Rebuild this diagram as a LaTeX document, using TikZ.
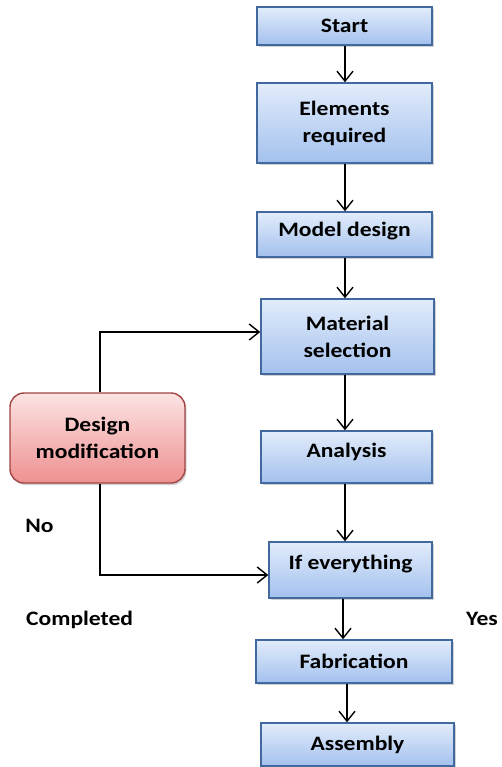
\documentclass[tikz,border=0pt]{standalone}
\usepackage{fontspec}
\setmainfont{Carlito}[FakeStretch=1.15]
\usetikzlibrary{arrows.meta,shadows,calc}
\definecolor{bluetop}{HTML}{E2ECFB}
\definecolor{bluebot}{HTML}{A3C1EE}
\definecolor{blueedge}{HTML}{41699E}
\definecolor{redtop}{HTML}{FCE3E3}
\definecolor{redbot}{HTML}{EE9090}
\definecolor{rededge}{HTML}{A14545}
\tikzset{
  box/.style={rectangle, draw=blueedge, line width=1.4pt, top color=bluetop, bottom color=bluebot,
    inner sep=0pt, align=center, font=\bfseries\fontsize{20.5}{27}\selectfont,
    drop shadow={shadow xshift=1.5pt, shadow yshift=-2pt, opacity=0.35}},
  redbox/.style={box, rounded corners=14pt, draw=rededge, top color=redtop, bottom color=redbot},
  lbl/.style={font=\bfseries\fontsize{20.5}{24}\selectfont, inner sep=0pt},
  conn/.style={line width=1.6pt, -{Straight Barb[length=10pt,width=16pt,line width=1.4pt]}}
}
\begin{document}
\begin{tikzpicture}[x=1pt,y=-1pt]
\useasboundingbox[fill=white] (0,0) rectangle (501,767);
\node[box, minimum width=175pt, minimum height=38pt] (start) at (344.5,26) {Start};
\node[box, minimum width=175pt, minimum height=80pt] (elem) at (344.5,123) {Elements\\required};
\node[box, minimum width=175pt, minimum height=45pt, text height=14pt, text depth=10pt] (model) at (344.5,234.5) {Model design};
\node[box, minimum width=173pt, minimum height=75pt] (mat) at (347.5,336.5) {Material\\selection};
\node[box, minimum width=171pt, minimum height=52pt, text height=14pt, text depth=14pt] (ana) at (346.5,457) {Analysis};
\node[box, minimum width=163pt, minimum height=56pt, text height=14pt, text depth=16pt] (ifev) at (350.5,570) {If everything};
\node[box, minimum width=196pt, minimum height=43pt] (fab) at (354,661.5) {Fabrication};
\node[box, minimum width=193pt, minimum height=43pt] (asm) at (357.5,744.5) {Assembly};
\node[redbox, minimum width=175pt, minimum height=90pt] (dm) at (97.5,438) {Design\\modification};
\node[lbl] (no) at (39.5,526) {No};
\node[lbl, anchor=west] (comp) at (26,620) {Completed};
\node[lbl, anchor=west] (yes) at (466,619) {Yes};
\coordinate (ax) at (345,0);
\draw[conn] (start.south -| ax) -- (elem.north -| ax);
\draw[conn] (elem.south -| ax) -- (model.north -| ax);
\draw[conn] (model.south -| ax) -- (mat.north -| ax);
\draw[conn] (mat.south -| ax) -- (ana.north -| ax);
\draw[conn] (ana.south -| ax) -- (ifev.north -| ax);
\draw[conn] ([xshift=-2pt]ifev.south -| ax) -- ([xshift=-2pt]fab.north -| ax);
\draw[conn] ([xshift=2pt]fab.south -| ax) -- ([xshift=2pt]asm.north -| ax);
\draw[conn] ([xshift=2.5pt]dm.north) |- ($(mat.west)+(0,-4.5)$);
\draw[conn] ([xshift=2.5pt]dm.south) |- ($(ifev.west)+(0,5)$);
\end{tikzpicture}
\end{document}
